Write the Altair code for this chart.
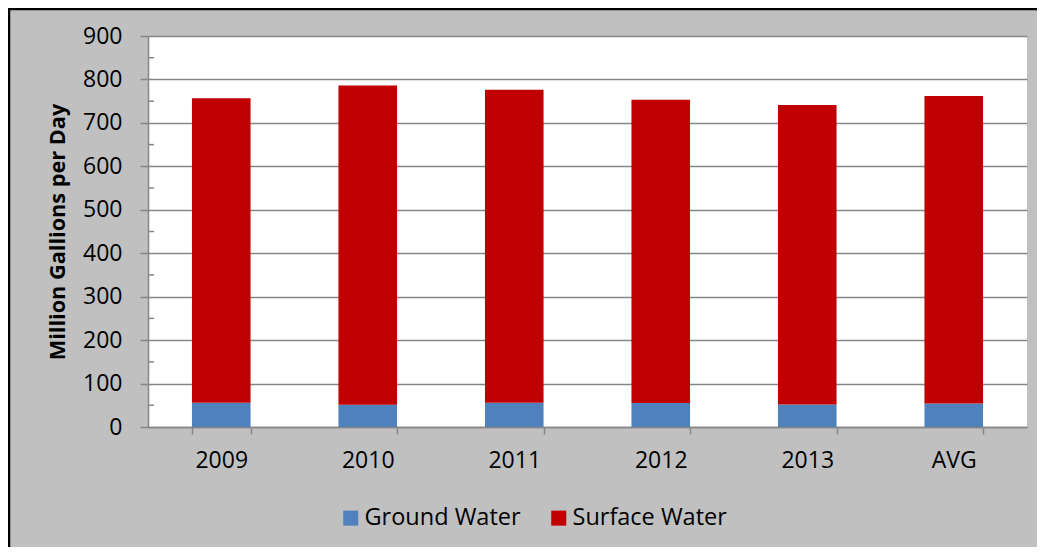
import altair as alt
import pandas as pd

categories = ["2009", "2010", "2011", "2012", "2013", "AVG"]
ground_water = [56, 51, 56, 55, 52, 54]
surface_water = [701, 735, 720, 698, 689, 708]
series_names = ["Ground Water", "Surface Water"]
series_colors = ["#4f81bd", "#c00000"]
y_ticks = [0, 100, 200, 300, 400, 500, 600, 700, 800, 900]
y_minor_ticks = [50, 150, 250, 350, 450, 550, 650, 750, 850]

rows = []
for i, c in enumerate(categories):
    rows.append({"cat": c, "series": series_names[0], "value": ground_water[i], "ord": 0})
    rows.append({"cat": c, "series": series_names[1], "value": surface_water[i], "ord": 1})
df = pd.DataFrame(rows)

FONT = "Open Sans"
PLOT_W, PLOT_H = 879, 391

bars = alt.Chart(df).mark_bar().encode(
    x=alt.X("cat:N", sort=categories,
            scale=alt.Scale(paddingInner=0.6, paddingOuter=0.3),
            axis=alt.Axis(title=None, labelAngle=0, tickBand="extent", grid=False,
                          domainColor="#868686", domainWidth=1.5, tickColor="#868686",
                          tickWidth=1.5, tickSize=7, labelPadding=15, labelFontSize=23,
                          labelFont=FONT, labelColor="#000000")),
    y=alt.Y("value:Q", stack="zero",
            scale=alt.Scale(domain=[0, 900], nice=False),
            axis=alt.Axis(title="Million Gallions per Day", values=y_ticks,
                          grid=True, gridColor="#868686", gridWidth=1.3,
                          domainColor="#868686", domainWidth=1.5, tickColor="#868686",
                          tickWidth=1.5, tickSize=8, labelPadding=18, labelFontSize=23,
                          labelFont=FONT, labelColor="#000000",
                          titleFont=FONT, titleFontSize=21.7, titleFontWeight="bold",
                          titleColor="#000000", titlePadding=13)),
    color=alt.Color("series:N", sort=series_names,
                    scale=alt.Scale(domain=series_names, range=series_colors),
                    legend=alt.Legend(title=None, orient="none", legendX=191, legendY=470,
                                      direction="horizontal", symbolType="square",
                                      symbolSize=225, symbolStrokeWidth=0,
                                      labelFontSize=23.5, labelFont=FONT, labelColor="#000000",
                                      columnPadding=26, labelOffset=2, padding=0)),
    order=alt.Order("ord:Q", sort="ascending"),
)

minor_df = pd.DataFrame({"v": y_minor_ticks})
minor = alt.Chart(minor_df).mark_rule(color="#868686", strokeWidth=1.5).encode(
    y=alt.Y("v:Q", scale=alt.Scale(domain=[0, 900], nice=False)),
    x=alt.value(0), x2=alt.value(6),
)

border_df = pd.DataFrame({"b": [1]})
border = alt.Chart(border_df).mark_rect(fillOpacity=0, stroke="#000000", strokeWidth=2.5).encode(
    x=alt.value(-139), x2=alt.value(PLOT_W + 60),
    y=alt.value(-27), y2=alt.value(PLOT_H + 200),
)

chart = alt.layer(bars, minor, border).properties(
    width=PLOT_W, height=PLOT_H,
    background="#c0c0c0",
    autosize=alt.AutoSizeParams(type="none"),
    padding={"left": 140, "top": 28, "right": 10, "bottom": 120},
).configure_view(fill="#ffffff", stroke=None)

chart.save("out.html", embed_options={"renderer": "svg", "actions": False})
